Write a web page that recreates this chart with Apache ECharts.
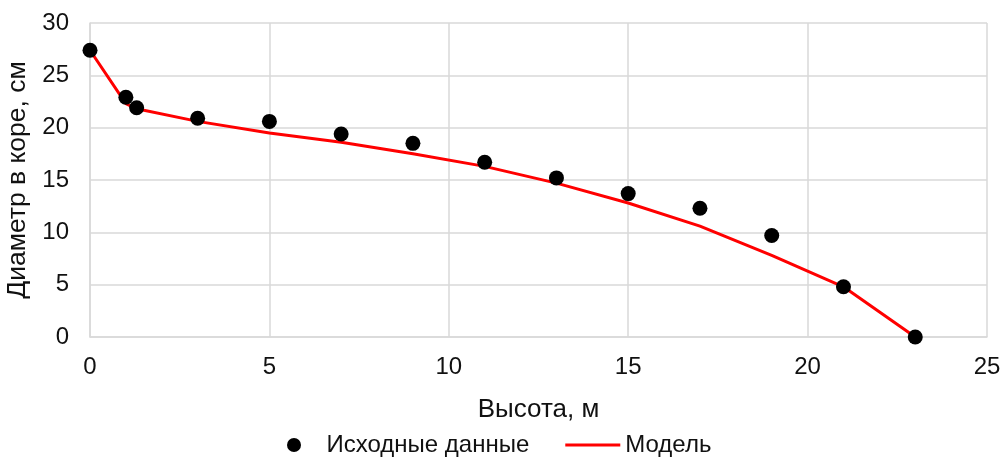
<!DOCTYPE html>
<html><head><meta charset="utf-8">
<script src="https://cdn.jsdelivr.net/npm/echarts@6/dist/echarts.min.js"></script>
<style>html,body{margin:0;padding:0;background:#fff}#c{width:1003px;height:459px}</style>
</head><body><div id="c"></div>
<script>
const heights = [0, 1, 1.3, 3, 5, 7, 9, 11, 13, 15, 17, 19, 21, 23];
const observed = [27.4, 22.9, 21.9, 20.9, 20.6, 19.4, 18.5, 16.7, 15.2, 13.7, 12.3, 9.7, 4.8, 0];
const model = [27.4, 22.3, 21.8, 20.6, 19.5, 18.6, 17.5, 16.3, 14.7, 12.8, 10.6, 7.8, 4.8, 0];
const seriesNames = ['Исходные данные', 'Модель'];
const xTitle = 'Высота, м';
const yTitle = 'Диаметр в коре, см';

const font = 'Liberation Sans, Arial, sans-serif';
const txt = '#111';
const chart = echarts.init(document.getElementById('c'), null, {renderer: 'canvas'});
chart.setOption({
  animation: false,
  textStyle: {fontFamily: font},
  grid: {left: 90, right: 16, top: 23, bottom: 122, containLabel: false, outerBoundsMode: 'none'},
  legend: {
    top: 428, left: 282,
    itemWidth: 55, itemHeight: 14, itemGap: 36,
    symbolKeepAspect: true,
    textStyle: {fontFamily: font, fontSize: 24, color: txt},
    data: [
      {name: seriesNames[0], icon: 'circle'},
      {name: seriesNames[1], icon: 'path://M0,0 L55,0 L55,3 L0,3 Z'}
    ]
  },
  xAxis: {
    type: 'value', min: 0, max: 25, interval: 5,
    name: xTitle, nameLocation: 'middle', nameGap: 60,
    nameTextStyle: {fontFamily: font, fontSize: 26, color: txt},
    axisLine: {show: true, lineStyle: {color: '#d9d9d9', width: 1.5}},
    axisTick: {show: false},
    axisLabel: {fontFamily: font, fontSize: 24, color: txt, margin: 18},
    splitLine: {show: true, lineStyle: {color: '#d9d9d9', width: 1.5}}
  },
  yAxis: {
    type: 'value', min: 0, max: 30, interval: 5,
    name: yTitle, nameLocation: 'middle', nameGap: 48,
    nameTextStyle: {fontFamily: font, fontSize: 26.5, color: txt},
    axisLine: {show: true, lineStyle: {color: '#d9d9d9', width: 1.5}},
    axisTick: {show: false},
    axisLabel: {fontFamily: font, fontSize: 24, color: txt, margin: 21},
    splitLine: {show: true, lineStyle: {color: '#d9d9d9', width: 1.5}}
  },
  series: [
    {
      name: seriesNames[1], type: 'line', z: 2,
      data: heights.map((h, i) => [h, model[i]]),
      symbol: 'none', lineStyle: {color: '#ff0000', width: 3},
      itemStyle: {color: '#ff0000'}
    },
    {
      name: seriesNames[0], type: 'scatter', z: 3,
      data: heights.map((h, i) => [h, observed[i]]),
      symbol: 'circle', symbolSize: 15,
      itemStyle: {color: '#000', opacity: 1}
    }
  ]
});
</script></body></html>
